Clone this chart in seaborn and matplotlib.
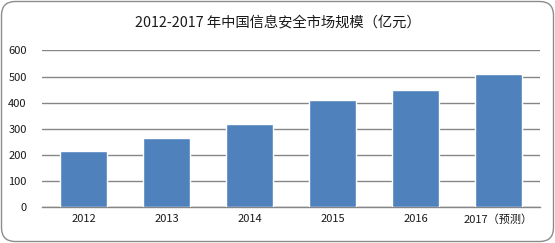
import matplotlib
matplotlib.use("Agg")
import matplotlib.pyplot as plt
from matplotlib.patches import FancyBboxPatch
import seaborn as sns
import pandas as pd

years = ["2012", "2013", "2014", "2015", "2016", "2017（预测）"]
values = [215, 265, 320, 410, 450, 510]
yticks = [0, 100, 200, 300, 400, 500, 600]
title = "2012-2017 年中国信息安全市场规模（亿元）"

sns.set_theme(style="white")
plt.rcParams['font.family'] = ['Noto Sans CJK SC', 'DejaVu Sans']

df = pd.DataFrame({"year": years, "value": values})

fig = plt.figure(figsize=(5.55, 2.43), dpi=100)
ax = fig.add_axes([42/555, 36/243, 498/555, 156.5/243])

sns.barplot(data=df, x="year", y="value", color="#4F81BD", saturation=1,
            width=0.57, ax=ax, zorder=3)

ax.set_ylim(0, 600)
ax.set_yticks(yticks)
ax.yaxis.grid(True, color="#868686", linewidth=1.0, zorder=0)
ax.set_axisbelow(True)
for s in ["top", "right", "left"]:
    ax.spines[s].set_visible(False)
ax.spines["bottom"].set_color("#868686")
ax.spines["bottom"].set_linewidth(1.0)
ax.tick_params(axis="both", length=0, labelsize=8, colors="#1a1a1a")
ax.tick_params(axis="y", pad=11)
ax.tick_params(axis="x", pad=5)
ax.set_xlabel("")
ax.set_ylabel("")
ax.set_xlim(-0.5, 5.5)

fig.text(0.5, 1 - 22/243, title, ha="center", va="center", fontsize=10.3, color="#1a1a1a")

border = FancyBboxPatch((1.5/555, 1.5/243), 552/555, 240/243,
                        boxstyle="round,pad=0,rounding_size=0.025",
                        transform=fig.transFigure, facecolor="none",
                        edgecolor="#8c8c8c", linewidth=1.0, mutation_aspect=555/243)
fig.patches.append(border)

fig.savefig("out.png", dpi=100)
